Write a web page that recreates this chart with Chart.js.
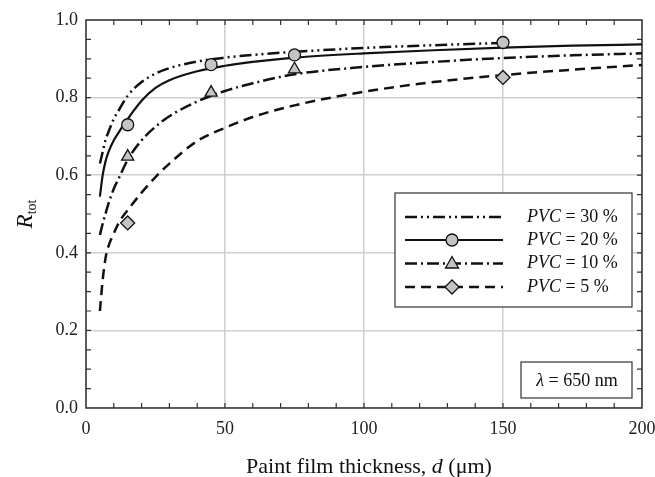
<!DOCTYPE html>
<html>
<head>
<meta charset="utf-8">
<script src="https://cdn.jsdelivr.net/npm/chart.js@4.4.0/dist/chart.umd.min.js"></script>
<style>
  html, body { margin: 0; padding: 0; background: #fff; }
  #wrap { width: 655px; height: 477px; }
</style>
</head>
<body>
<div id="wrap"><canvas id="chart" width="655" height="477"></canvas></div>
<script>
// curve data
const thick30 = [5, 6, 7, 8, 10, 12, 15, 20, 25, 30, 40, 50, 60, 75, 100, 125, 150];
const rtot30  = [0.63, 0.66, 0.69, 0.71, 0.745, 0.77, 0.805, 0.84, 0.862, 0.876, 0.893, 0.903, 0.91, 0.918, 0.928, 0.935, 0.941];

const thick = [5, 6, 7, 8, 10, 12, 15, 20, 25, 30, 40, 50, 60, 75, 100, 125, 150, 175, 200];
const rtot20 = [0.545, 0.6, 0.635, 0.658, 0.69, 0.713, 0.745, 0.792, 0.825, 0.845, 0.868, 0.882, 0.892, 0.903, 0.914, 0.922, 0.929, 0.934, 0.937];
const rtot10 = [0.446, 0.475, 0.5, 0.525, 0.565, 0.595, 0.64, 0.69, 0.725, 0.752, 0.79, 0.817, 0.837, 0.86, 0.879, 0.892, 0.902, 0.909, 0.914];
const rtot5  = [0.25, 0.33, 0.385, 0.415, 0.45, 0.48, 0.51, 0.555, 0.595, 0.63, 0.688, 0.722, 0.75, 0.78, 0.815, 0.84, 0.858, 0.872, 0.884];

// measured points (markers)
const meas20x = [15, 45, 75, 150];
const meas20y = [0.73, 0.885, 0.91, 0.942];
const meas10x = [15, 45, 75];
const meas10y = [0.648, 0.813, 0.873];
const meas5x  = [15, 150];
const meas5y  = [0.477, 0.852];

const seriesNames = ['30 %', '20 %', '10 %', '5 %'];
const xTicks = [0, 50, 100, 150, 200];
const xTickLabels = ['0', '50', '100', '150', '200'];
const yTicks = [0, 0.2, 0.4, 0.6, 0.8, 1.0];
const yTickLabels = ['0.0', '0.2', '0.4', '0.6', '0.8', '1.0'];

const pts = (xs, ys) => xs.map((v, i) => ({ x: v, y: ys[i] }));

const INK = '#111';
const MARK_FILL = '#c4c4c4';
const SERIF = '"Liberation Serif", "DejaVu Serif", serif';

const styles = [
  { dash: [12, 4, 2, 4, 2, 4], width: 2.5, marker: null },
  { dash: [], width: 2.2, marker: 'circle' },
  { dash: [12, 4, 2, 4], width: 2.5, marker: 'triangle' },
  { dash: [10, 6], width: 2.5, marker: 'rectRot' }
];

function curve(data, st) {
  return {
    data, borderColor: INK, borderWidth: st.width, borderDash: st.dash,
    pointRadius: 0, cubicInterpolationMode: 'monotone', fill: false, order: 2
  };
}
function marks(data, shape) {
  return {
    data, showLine: false, pointStyle: shape, pointRadius: shape === 'circle' ? 6 : 7,
    pointBackgroundColor: MARK_FILL, pointBorderColor: INK, pointBorderWidth: 1.3, order: 1
  };
}

function drawMarker(ctx, shape, x, y) {
  ctx.save();
  ctx.fillStyle = MARK_FILL; ctx.strokeStyle = INK; ctx.lineWidth = 1.3; ctx.setLineDash([]);
  ctx.beginPath();
  if (shape === 'circle') {
    ctx.arc(x, y, 6, 0, Math.PI * 2);
  } else if (shape === 'triangle') {
    ctx.moveTo(x, y - 7); ctx.lineTo(x + 6.5, y + 4.5); ctx.lineTo(x - 6.5, y + 4.5); ctx.closePath();
  } else {
    ctx.moveTo(x, y - 7); ctx.lineTo(x + 7, y); ctx.lineTo(x, y + 7); ctx.lineTo(x - 7, y); ctx.closePath();
  }
  ctx.fill(); ctx.stroke();
  ctx.restore();
}

// text made of runs with different fonts
function drawRuns(ctx, runs, x, y, align) {
  let total = 0;
  runs.forEach(r => { ctx.font = r.font; total += ctx.measureText(r.text).width; });
  let cx = align === 'center' ? x - total / 2 : x;
  runs.forEach(r => {
    ctx.font = r.font;
    ctx.fillText(r.text, cx, y + (r.dy || 0));
    cx += ctx.measureText(r.text).width;
  });
}

const framePlugin = {
  id: 'frame',
  beforeDatasetsDraw(chart) {
    const { ctx, chartArea: a, scales: { x, y } } = chart;
    ctx.save();
    ctx.strokeStyle = '#333';
    ctx.lineWidth = 1.2;
    ctx.beginPath();
    for (let v = 10; v < 200; v += 10) {
      const px = x.getPixelForValue(v);
      ctx.moveTo(px, a.bottom); ctx.lineTo(px, a.bottom - 5);
      ctx.moveTo(px, a.top); ctx.lineTo(px, a.top + 5);
    }
    for (let i = 1; i < 20; i++) {
      const py = y.getPixelForValue(i * 0.05);
      ctx.moveTo(a.left, py); ctx.lineTo(a.left + 5, py);
      ctx.moveTo(a.right, py); ctx.lineTo(a.right - 5, py);
    }
    ctx.stroke();
    ctx.lineWidth = 1.5;
    ctx.strokeRect(a.left, a.top, a.width, a.height);
    ctx.restore();
  },
  afterDatasetsDraw(chart) {
    const { ctx, chartArea: a } = chart;
    ctx.save();
    ctx.fillStyle = INK;
    ctx.textBaseline = 'middle';

    // legend box
    const lx = 395, ly = 193, lw = 237, lh = 114;
    ctx.fillStyle = '#fff';
    ctx.fillRect(lx, ly, lw, lh);
    ctx.strokeStyle = '#333'; ctx.lineWidth = 1.2;
    ctx.strokeRect(lx, ly, lw, lh);
    const rowY = [217, 240, 263.5, 287];
    styles.forEach((st, i) => {
      ctx.strokeStyle = INK; ctx.lineWidth = st.width; ctx.setLineDash(st.dash);
      ctx.beginPath(); ctx.moveTo(405, rowY[i]); ctx.lineTo(503, rowY[i]); ctx.stroke();
      ctx.setLineDash([]);
      if (st.marker) drawMarker(ctx, st.marker, 452, rowY[i]);
      ctx.fillStyle = INK;
      drawRuns(ctx, [
        { text: 'PVC', font: 'italic 18px ' + SERIF },
        { text: ' = ' + seriesNames[i], font: '18px ' + SERIF }
      ], 527, rowY[i], 'left');
    });

    // wavelength box
    ctx.fillStyle = '#fff';
    ctx.fillRect(521, 362, 111, 36);
    ctx.strokeStyle = '#333'; ctx.lineWidth = 1.2;
    ctx.strokeRect(521, 362, 111, 36);
    ctx.fillStyle = INK;
    drawRuns(ctx, [
      { text: 'λ', font: 'italic 18px ' + SERIF },
      { text: ' = 650 nm', font: '18px ' + SERIF }
    ], 577, 381, 'center');

    // x axis title
    drawRuns(ctx, [
      { text: 'Paint film thickness, ', font: '22px ' + SERIF },
      { text: 'd', font: 'italic 22px ' + SERIF },
      { text: ' (μm)', font: '22px ' + SERIF }
    ], 369, 467, 'center');

    // y axis title
    ctx.translate(26, (a.top + a.bottom) / 2);
    ctx.rotate(-Math.PI / 2);
    drawRuns(ctx, [
      { text: 'R', font: 'italic 23px ' + SERIF },
      { text: 'tot', font: '14px ' + SERIF, dy: 6 }
    ], 0, 0, 'center');
    ctx.restore();
  }
};

new Chart(document.getElementById('chart'), {
  type: 'line',
  data: {
    datasets: [
      marks(pts(meas20x, meas20y), 'circle'),
      marks(pts(meas10x, meas10y), 'triangle'),
      marks(pts(meas5x, meas5y), 'rectRot'),
      curve(pts(thick30, rtot30), styles[0]),
      curve(pts(thick, rtot20), styles[1]),
      curve(pts(thick, rtot10), styles[2]),
      curve(pts(thick, rtot5), styles[3])
    ]
  },
  options: {
    responsive: false,
    animation: false,
    devicePixelRatio: 1,
    layout: { padding: { left: 0, right: 13, top: 20, bottom: 0 } },
    plugins: { legend: { display: false }, tooltip: { enabled: false } },
    scales: {
      x: {
        type: 'linear', min: 0, max: 200,
        afterBuildTicks: s => { s.ticks = xTicks.map(v => ({ value: v })); },
        afterFit: s => { s.height = 69; s.paddingLeft = 0; s.paddingRight = 0; },
        grid: { color: '#cfcfcf', lineWidth: 1.5, drawTicks: false },
        border: { display: false },
        ticks: {
          padding: 10, color: '#222', maxRotation: 0, autoSkip: false,
          font: { family: SERIF, size: 18 },
          callback: v => xTickLabels[xTicks.indexOf(v)]
        }
      },
      y: {
        type: 'linear', min: 0, max: 1,
        afterBuildTicks: s => { s.ticks = yTicks.map(v => ({ value: v })); },
        afterFit: s => { s.width = 86; s.paddingTop = 0; s.paddingBottom = 0; },
        grid: { color: '#cfcfcf', lineWidth: 1.5, drawTicks: false },
        border: { display: false },
        ticks: {
          padding: 8, color: '#222', autoSkip: false,
          font: { family: SERIF, size: 18 },
          callback: v => yTickLabels[yTicks.findIndex(t => Math.abs(t - v) < 1e-6)]
        }
      }
    }
  },
  plugins: [framePlugin]
});
</script>
</body>
</html>
